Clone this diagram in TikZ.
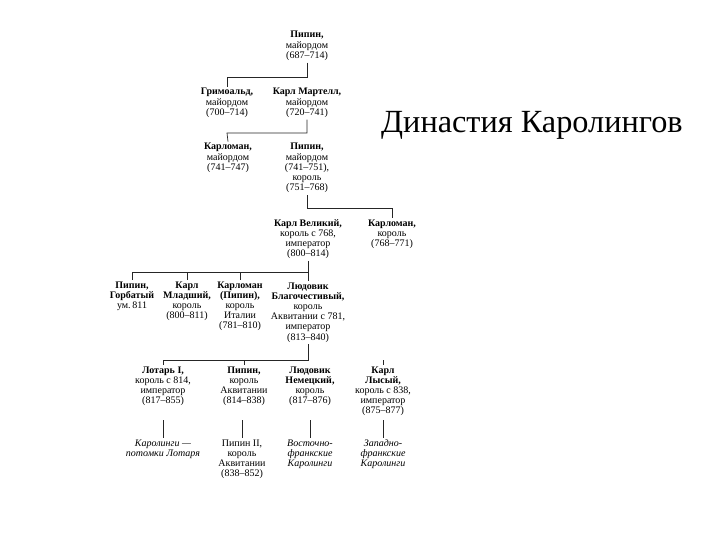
\documentclass[tikz,border=0pt]{standalone}
\usepackage{fontspec}
\setmainfont{Liberation Serif}
\usetikzlibrary{positioning,calc}

\newcommand{\card}[1]{\begin{tabular}[t]{@{}c@{}}#1\end{tabular}}
\tikzset{
  person/.style={anchor=base, inner sep=1pt,
    font=\fontsize{10}{10.2}\selectfont},
  link/.style={line width=0.7pt, black!85}
}

\begin{document}
\begin{tikzpicture}[x=1pt,y=-1pt]
\useasboundingbox (0,0) rectangle (720,540);
% title
\node[anchor=base west, inner sep=0pt, font=\fontsize{32.3}{36}\selectfont] (title) at (381,133) {Династия Каролингов};

% generations
\node[person] (pipinG) at (307,38) {\card{\textbf{Пипин,}\\майордом\\(687--714)}};
\node[person] (grimoald) at (227,95) {\card{\textbf{Гримоальд,}\\майордом\\(700--714)}};
\node[person] (karlM) at (307,95) {\card{\textbf{Карл Мартелл,}\\майордом\\(720--741)}};
\node[person] (karlomanM) at (228,150) {\card{\textbf{Карломан,}\\майордом\\(741--747)}};
\node[person] (pipinK) at (307,150) {\card{\textbf{Пипин,}\\майордом\\(741--751),\\король\\(751--768)}};
\node[person] (karlV) at (308,226) {\card{\textbf{Карл Великий,}\\король с 768,\\император\\(800--814)}};
\node[person] (karlomanK) at (392,226) {\card{\textbf{Карломан,}\\король\\(768--771)}};
\node[person] (pipinH) at (132,288) {\card{\textbf{Пипин,}\\\textbf{Горбатый}\\ум.\,811}};
\node[person] (karlY) at (187,288) {\card{\textbf{Карл}\\\textbf{Младший,}\\король\\(800--811)}};
\node[person] (karlomanP) at (240,288) {\card{\textbf{Карломан}\\\textbf{(Пипин),}\\король\\Италии\\(781--810)}};
\node[person] (ludovikB) at (308,289) {\card{\textbf{Людовик}\\\textbf{Благочестивый,}\\король\\Аквитании с 781,\\император\\(813--840)}};
\node[person] (lothar) at (163,373) {\card{\textbf{Лотарь I,}\\король с 814,\\император\\(817--855)}};
\node[person] (pipinA) at (244,373) {\card{\textbf{Пипин,}\\король\\Аквитании\\(814--838)}};
\node[person] (ludovikN) at (310,373) {\card{\textbf{Людовик}\\\textbf{Немецкий,}\\король\\(817--876)}};
\node[person] (karlL) at (383,373) {\card{\textbf{Карл}\\\textbf{Лысый,}\\король с 838,\\император\\(875--877)}};
\node[person] (lotharD) at (163,446) {\card{\textit{Каролинги —}\\\textit{потомки Лотаря}}};
\node[person] (pipinII) at (242,446) {\card{Пипин II,\\король\\Аквитании\\(838--852)}};
\node[person] (eastK) at (310,446) {\card{\textit{Восточно-}\\\textit{франкские}\\\textit{Каролинги}}};
\node[person] (westK) at (383,446) {\card{\textit{Западно-}\\\textit{франкские}\\\textit{Каролинги}}};

% bars
\coordinate (bar1) at (227,77);
\coordinate (bar2) at (227,133);
\coordinate (bar3) at (392,208);
\coordinate (bar4) at (132,272);
\coordinate (bar5) at (163,360);
\coordinate (bar6) at (0,420);

\draw[link] (pipinG.south) |- (bar1) -- (grimoald.north);
\draw[link] (karlM.south) |- (bar2) -- (karlomanM.north);
\draw[link] (pipinK.south) |- (bar3) -- (karlomanK.north);
\draw[link] (karlV.south) |- (bar4) -- (pipinH.north);
\foreach \c in {karlY,karlomanP,ludovikB}
  \draw[link] (\c.north) -- (\c.north |- bar4);
\draw[link] (ludovikB.south) |- (bar5) -- (lothar.north);
\foreach \c in {pipinA,karlL}
  \draw[link] (\c.north) -- (\c.north |- bar5);
\foreach \c in {lotharD,pipinII,eastK,westK}
  \draw[link] (\c.north) -- (\c.north |- bar6);
\end{tikzpicture}
\end{document}
